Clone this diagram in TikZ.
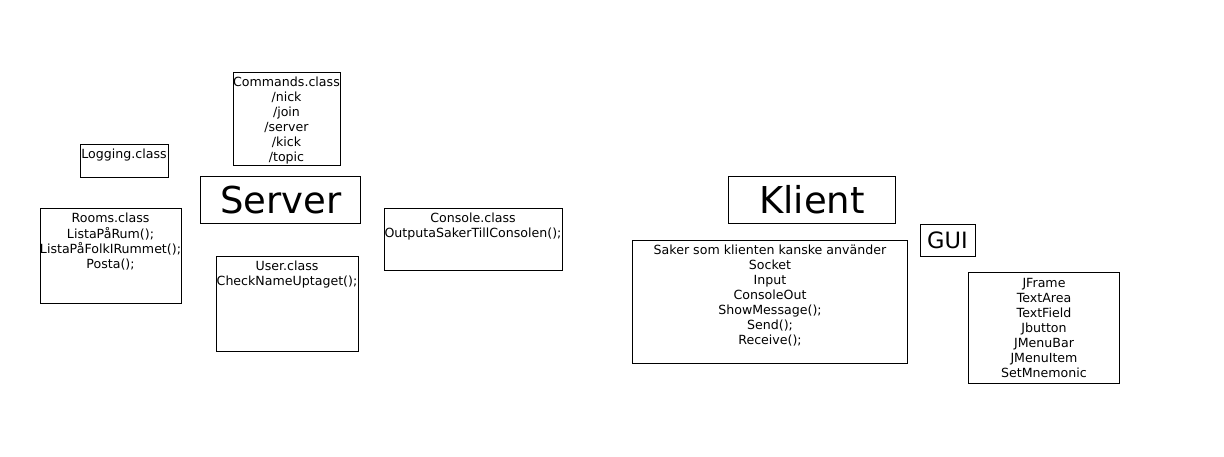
\documentclass[tikz,border=0pt]{standalone}
\usepackage{fontspec}
\setmainfont{DejaVu Sans}
\begin{document}
\begin{tikzpicture}[x=1pt,y=-1pt,
  box/.style={draw=black, line width=1pt, inner sep=0pt},
  txt/.style={anchor=north, inner sep=0pt, align=center, font=\fontsize{12.6}{15}\selectfont},
  big/.style={font=\fontsize{37}{40}\selectfont, inner sep=0pt},
  mid/.style={font=\fontsize{22.5}{26}\selectfont, inner sep=0pt}]
\useasboundingbox (0,0) rectangle (1224,456);
\fill[white] (0,0) rectangle (1224,456);
% Server side
\draw[box] (233,72) rectangle (340,165);
\node[txt] (cmd) at (286.5,75.5) {\strut Commands.class\\/nick\\/join\\/server\\/kick\\/topic};
\draw[box] (80,144) rectangle (168,177);
\node[txt] (log) at (124,147.5) {\strut Logging.class};
\draw[box] (200,176) rectangle (360,223);
\node[big] (server) at (281,200) {Server};
\draw[box] (40.5,208.5) rectangle (181.5,303);
\node[txt] (rooms) at (110.5,211.5) {\strut Rooms.class\\ListaPåRum();\\ListaPåFolkIRummet();\\Posta();};
\draw[box] (216.5,256.5) rectangle (358,351);
\node[txt] (user) at (287,259.5) {\strut User.class\\CheckNameUptaget();};
\draw[box] (384.5,208.5) rectangle (562,270);
\node[txt] (console) at (473,211.5) {\strut Console.class\\OutputaSakerTillConsolen();};
% Client side
\draw[box] (728.5,176.5) rectangle (895,223);
\node[big] (klient) at (812,200) {Klient};
\draw[box] (920.5,224.5) rectangle (975,256);
\node[mid] (gui) at (947.5,240.5) {GUI};
\draw[box] (632.5,240.5) rectangle (907,363);
\node[txt] (saker) at (770,243.5) {\strut Saker som klienten kanske använder\\Socket\\Input\\ConsoleOut\\ShowMessage();\\Send();\\Receive();};
\draw[box] (968.5,272.5) rectangle (1119.5,383);
\node[txt] (jframe) at (1044,276.5) {\strut JFrame\\TextArea\\TextField\\Jbutton\\JMenuBar\\JMenuItem\\SetMnemonic};
\end{tikzpicture}
\end{document}
